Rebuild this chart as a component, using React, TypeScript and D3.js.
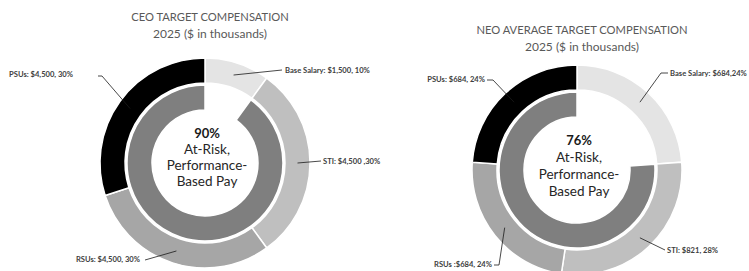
import * as d3 from "d3";
import * as React from "react";

// CEO data ($ in thousands)
const ceoCategories = ["Base Salary", "STI", "RSUs", "PSUs"];
const ceoValues = [1500, 4500, 4500, 4500];
const ceoLabels = ["Base Salary: $1,500, 10%", "STI: $4,500 ,30%", "RSUs: $4,500, 30%", "PSUs: $4,500, 30%"];
const ceoAtRisk = "90%";

// NEO average data ($ in thousands)
const neoCategories = ["Base Salary", "STI", "RSUs", "PSUs"];
const neoValues = [684, 821, 684, 684];
const neoLabels = ["Base Salary: $684,24%", "STI: $821, 28%", "RSUs :$684, 24%", "PSUs: $684, 24%"];
const neoAtRisk = "76%";

const centerLines = ["At-Risk,", "Performance-", "Based Pay"];

const sliceColors = ["#e4e4e4", "#bfbfbf", "#a6a6a6", "#000000"];
const innerColor = "#7f7f7f";

type LabelPos = { tx: number; ty: number; anchor: string; pts: [number, number][] };

// label placement relative to the chart centre; pts = leader points from the text side
const ceoLayout: LabelPos[] = [
  { tx: 80, ty: -90, anchor: "start", pts: [[77, -93]] },
  { tx: 118, ty: 1, anchor: "start", pts: [[116, -2]] },
  { tx: -65, ty: 99, anchor: "end", pts: [[-60, 97]] },
  { tx: -132, ty: -86, anchor: "end", pts: [[-107, -87], [-103, -87]] },
];
const neoLayout: LabelPos[] = [
  { tx: 93, ty: -94, anchor: "start", pts: [[91, -97], [84, -97]] },
  { tx: 90, ty: 83, anchor: "start", pts: [[88, 80]] },
  { tx: -85, ty: 97, anchor: "end", pts: [[-83, 95], [-78, 95]] },
  { tx: -92, ty: -88, anchor: "end", pts: [[-90, -90], [-84, -90]] },
];

const R_OUT = 105;
const R_OUT_IN = 80;
const R_IN = 78;
const R_IN_IN = 53;

const font = "Lato, 'Open Sans', sans-serif";

interface DonutProps {
  cx: number;
  cy: number;
  categories: string[];
  values: number[];
  labels: string[];
  layout: LabelPos[];
  atRisk: string;
  title: string;
  titleY: number;
  textDy: number;
  lineGap: number;
}

const Donut: React.FC<DonutProps> = ({ cx, cy, categories, values, labels, layout, atRisk, title, titleY, textDy, lineGap }) => {
  const pie = d3.pie<number>().sort(null).value(d => d);
  const outerArcs = pie(values);
  const fixed = values[0];
  const risk = d3.sum(values.slice(1));
  const innerArcs = pie([fixed, risk]);

  const outerArc = d3.arc<d3.PieArcDatum<number>>().innerRadius(R_OUT_IN).outerRadius(R_OUT);
  const innerArc = d3.arc<d3.PieArcDatum<number>>().innerRadius(R_IN_IN).outerRadius(R_IN);
  const line = d3.line();

  return (
    <g>
      <text x={cx + 5} y={titleY} textAnchor="middle" fill="#595959" fontFamily={font} fontSize={11.2}>
        {title}
      </text>
      <text x={cx + 5} y={titleY + 17} textAnchor="middle" fill="#595959" fontFamily={font} fontSize={12}>
        2025 ($ in thousands)
      </text>
      <g transform={`translate(${cx},${cy})`}>
        {outerArcs.map((a, i) => (
          <path key={categories[i]} d={outerArc(a) || ""} fill={sliceColors[i]} stroke="#fff" strokeWidth={1.5} />
        ))}
        {innerArcs.map((a, i) => (
          <path key={"in" + i} d={innerArc(a) || ""} fill={i === 0 ? "none" : innerColor} stroke={i === 0 ? "none" : "#fff"} strokeWidth={1.5} />
        ))}
        {outerArcs.map((a, i) => {
          const c = outerArc.centroid(a);
          const L = layout[i];
          return (
            <g key={"lbl" + i}>
              <path d={line([...L.pts, c]) || ""} fill="none" stroke="#1a1a1a" strokeWidth={0.8} />
              <text x={L.tx} y={L.ty} textAnchor={L.anchor} fill="#404040" fontFamily={font} fontWeight={700} fontSize={7.6}>
                {labels[i]}
              </text>
            </g>
          );
        })}
        <text x={2} y={textDy} textAnchor="middle" fill="#1a1a1a" fontFamily={font} fontWeight={700} fontSize={13}>
          {atRisk}
        </text>
        {centerLines.map((t, i) => (
          <text key={t} x={2} y={textDy + (i + 1) * lineGap} textAnchor="middle" fill="#262626" fontFamily={font} fontSize={13.5}>
            {t}
          </text>
        ))}
      </g>
    </g>
  );
};

export default function App() {
  return (
    <svg width={749} height={271} style={{ position: "absolute", left: 0, top: 0, background: "#fff" }}>
      <Donut cx={205} cy={163} categories={ceoCategories} values={ceoValues} labels={ceoLabels} layout={ceoLayout}
        atRisk={ceoAtRisk} title="CEO TARGET COMPENSATION" titleY={21} textDy={-25} lineGap={16} />
      <Donut cx={577} cy={170} categories={neoCategories} values={neoValues} labels={neoLabels} layout={neoLayout}
        atRisk={neoAtRisk} title="NEO AVERAGE TARGET COMPENSATION" titleY={34} textDy={-25} lineGap={17} />
    </svg>
  );
}
